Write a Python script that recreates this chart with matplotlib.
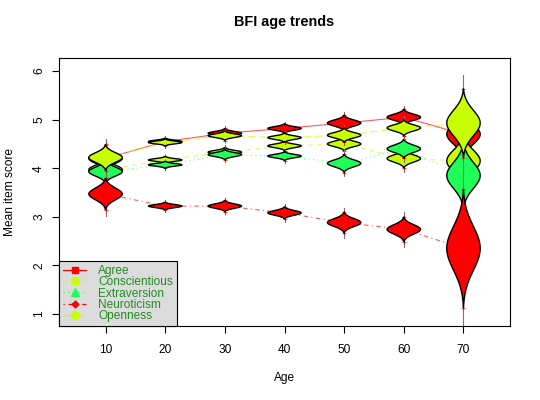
import numpy as np
import matplotlib
matplotlib.use('Agg')
import matplotlib.pyplot as plt
from matplotlib.lines import Line2D

plt.rcParams['font.family'] = ['Liberation Sans', 'DejaVu Sans']

# Mean item score by age decade
ages = [10, 20, 30, 40, 50, 60, 70]
factors = ['Agree', 'Conscientious', 'Extraversion', 'Neuroticism', 'Openness']

agree_mean = [4.20, 4.55, 4.72, 4.82, 4.93, 5.05, 4.70]
consc_mean = [3.97, 4.17, 4.33, 4.46, 4.50, 4.20, 4.15]
extra_mean = [3.93, 4.07, 4.28, 4.25, 4.10, 4.40, 3.85]
neuro_mean = [3.47, 3.22, 3.22, 3.08, 2.88, 2.74, 2.35]
open_mean = [4.22, 4.53, 4.67, 4.63, 4.68, 4.83, 4.93]

# half-height of each violin (spread of the estimate)
agree_spread = [0.27, 0.075, 0.10, 0.10, 0.17, 0.17, 0.55]
consc_spread = [0.25, 0.075, 0.10, 0.10, 0.15, 0.20, 0.60]
extra_spread = [0.25, 0.075, 0.11, 0.095, 0.19, 0.20, 0.72]
neuro_spread = [0.33, 0.085, 0.12, 0.13, 0.22, 0.26, 1.22]
open_spread = [0.27, 0.075, 0.10, 0.10, 0.15, 0.17, 0.71]

means = [agree_mean, consc_mean, extra_mean, neuro_mean, open_mean]
spreads = [agree_spread, consc_spread, extra_spread, neuro_spread, open_spread]

red = '#FF0000'
yg = '#C8FF00'
grn = '#20FF58'
colors = [red, yg, grn, red, yg]
styles = ['-', (0, (4, 4)), (0, (1, 3)), (0, (1, 3, 4, 3)), (0, (7, 3))]
markers = ['s', 'o', '^', 'D', 'o']
msizes = [5, 5.5, 5.5, 3.5, 5.5]

fig = plt.figure(figsize=(5.4, 4.0), dpi=100)
ax = fig.add_axes([59 / 540, 1 - 326 / 400, 451 / 540, 268 / 400])

# trend lines through the means
for m, c, ls in zip(means, colors, styles):
    ax.plot(ages, m, color=c, linestyle=ls, lw=0.8, alpha=0.65, zorder=1)

# violins (normal-shaped), one factor after the other
half_w = 2.8
z = 2
for m, s, c in zip(means, spreads, colors):
    for x, mu, h in zip(ages, m, s):
        sd = h / 2.7
        yy = np.linspace(mu - h, mu + h, 120)
        ww = half_w * np.exp(-0.5 * ((yy - mu) / sd) ** 2)
        ww = ww - ww[0]
        ww = ww * half_w / ww.max()
        ax.plot([x, x], [mu - 1.4 * h, mu + 1.4 * h], color='#777777', lw=0.8, zorder=z)
        ax.plot([x, x], [mu - h, mu + h], linestyle='none', marker='+',
                color=red, ms=2.5, mew=0.5, zorder=z)
        ax.fill(np.concatenate([x + ww, (x - ww)[::-1]]),
                np.concatenate([yy, yy[::-1]]),
                facecolor=c, edgecolor='black', lw=1.0, zorder=z + 0.5)
        z += 1

ax.set_xlim(2.2, 77.8)
ax.set_ylim(0.75, 6.27)
ax.set_xticks(ages)
ax.set_yticks([1, 2, 3, 4, 5, 6])
ax.tick_params(axis='both', length=5, width=0.8, labelsize=8.6, direction='out')
ax.tick_params(axis='x', pad=8)
ax.tick_params(axis='y', pad=5)
for lab in ax.get_yticklabels():
    lab.set_rotation(90)
    lab.set_va('center')
for sp in ax.spines.values():
    sp.set_linewidth(0.8)

ax.set_xlabel('Age', fontsize=8.6)
ax.xaxis.set_label_coords(0.5, -(378 - 326) / 268)
ax.xaxis.label.set_va('center')
ax.set_ylabel('Mean item score', fontsize=8.6)
ax.yaxis.set_label_coords(-(59 - 10) / 451, 0.5)
ax.yaxis.label.set_va('center')
ax.set_title('BFI age trends', fontsize=10.4, fontweight='bold',
             y=1 + 28 / 268, va='center')

handles = [Line2D([0], [0], color=c, linestyle=ls, lw=0.9, marker=mk,
                  ms=ms, markerfacecolor=c, markeredgecolor=c)
           for c, ls, mk, ms in zip(colors, styles, markers, msizes)]
leg = ax.legend(handles, factors, loc='lower left', borderaxespad=0,
                fontsize=8.6, labelcolor='#228B22', fancybox=False,
                facecolor='#DCDCDC', edgecolor='black', framealpha=1,
                labelspacing=-0.05, handlelength=2.0, handletextpad=1.0,
                borderpad=0.3)
leg.get_frame().set_linewidth(0.8)
leg.set_zorder(100)

fig.savefig('out.png', dpi=100)
